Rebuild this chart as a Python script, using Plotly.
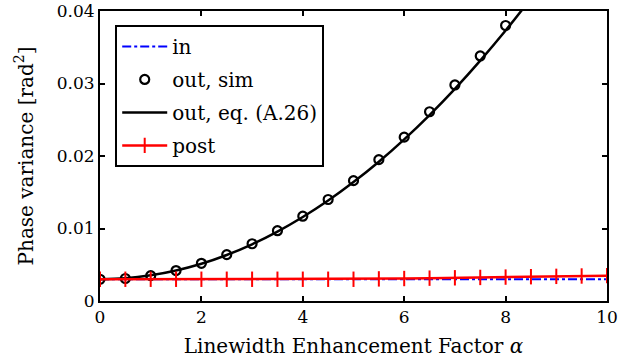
import plotly.graph_objects as go

# Sweep of the linewidth enhancement factor
alpha_pts = [0, 0.5, 1, 1.5, 2, 2.5, 3, 3.5, 4, 4.5, 5, 5.5, 6, 6.5, 7, 7.5, 8, 8.5, 9, 9.5, 10]

# Input phase variance (flat)
var_in = [0.0030] * 21

# Simulated output phase variance (alpha = 0 ... 8)
alpha_sim = [0, 0.5, 1, 1.5, 2, 2.5, 3, 3.5, 4, 4.5, 5, 5.5, 6, 6.5, 7, 7.5, 8]
var_out_sim = [0.0030, 0.0031, 0.0035, 0.0042, 0.0052, 0.0064, 0.0079, 0.0097, 0.0117,
               0.0140, 0.0166, 0.0195, 0.0226, 0.0261, 0.0298, 0.0338, 0.0380]

# Output phase variance from eq. (A.26)
alpha_eq = [0, 0.5, 1, 1.5, 2, 2.5, 3, 3.5, 4, 4.5, 5, 5.5, 6, 6.5, 7, 7.5, 8, 8.5]
var_out_eq = [0.00300, 0.00313, 0.00354, 0.00421, 0.00514, 0.00635, 0.00782, 0.00957,
              0.01158, 0.01385, 0.01640, 0.01921, 0.02230, 0.02565, 0.02926, 0.03315,
              0.03730, 0.04173]

# Phase variance after post-processing
var_post = [0.0030, 0.0030, 0.0030, 0.0030, 0.0030, 0.0030, 0.0030, 0.0030, 0.0030,
            0.0030, 0.0030, 0.00305, 0.0031, 0.00315, 0.0032, 0.00325, 0.0033,
            0.00335, 0.0034, 0.00345, 0.0035]

x_ticks = [0, 2, 4, 6, 8, 10]
y_ticks = [0, 0.01, 0.02, 0.03, 0.04]
y_tick_text = ["0", "0.01", "0.02", "0.03", "0.04"]

FONT = "DejaVu Serif"

fig = go.Figure()
fig.add_trace(go.Scatter(
    x=alpha_pts, y=var_in, mode="lines", name="in", legendgroup="a",
    line=dict(color="#0000ff", width=2, dash="dashdot"),
))
fig.add_trace(go.Scatter(
    x=alpha_sim, y=var_out_sim, mode="markers", name="out, sim", legendgroup="b",
    marker=dict(symbol="circle-open", size=9, color="black", line=dict(width=2.2, color="black")),
))
fig.add_trace(go.Scatter(
    x=alpha_eq, y=var_out_eq, mode="lines", name="out, eq. (A.26)", legendgroup="c",
    line=dict(color="black", width=2.5, shape="spline"),
))
fig.add_trace(go.Scatter(
    x=alpha_pts, y=var_post, mode="lines+markers", name="post", legendgroup="d",
    line=dict(color="#ff0000", width=2.5),
    marker=dict(symbol="line-ns-open", size=11, color="#ff0000", line=dict(width=2, color="#ff0000")),
))

axis_common = dict(
    showline=True, linecolor="black", linewidth=2, mirror="ticks",
    ticks="inside", ticklen=5, tickwidth=2, tickcolor="black",
    showgrid=False, zeroline=False, automargin=False,
    tickfont=dict(family=FONT, size=17, color="black"),
)

fig.update_layout(
    width=628, height=364,
    margin=dict(l=100, r=21, t=11, b=63),
    paper_bgcolor="white", plot_bgcolor="white",
    font=dict(family=FONT, size=20, color="black"),
    xaxis=dict(range=[0, 10], tickvals=x_ticks, **axis_common,
               title=dict(text="Linewidth Enhancement Factor <i>α</i>", standoff=13,
                          font=dict(family=FONT, size=20))),
    yaxis=dict(range=[0, 0.04], tickvals=y_ticks, ticktext=y_tick_text, **axis_common,
               title=dict(text="Phase variance [rad<sup>2</sup>]", standoff=18,
                          font=dict(family=FONT, size=20))),
    showlegend=True,
    legend=dict(
        x=0.03, y=0.952, xanchor="left", yanchor="top",
        bgcolor="white", bordercolor="black", borderwidth=2,
        font=dict(family=FONT, size=20, color="black"),
        traceorder="grouped", tracegroupgap=4, itemwidth=45,
    ),
)

fig.write_html("out.html")
